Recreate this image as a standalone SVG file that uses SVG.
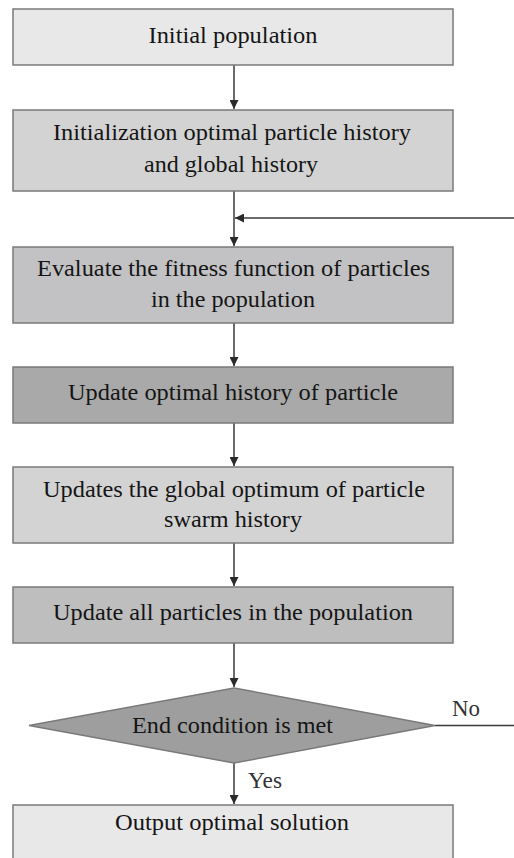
<svg xmlns="http://www.w3.org/2000/svg" width="514" height="858" viewBox="0 0 514 858">
<defs>
<style>
.box{stroke:#7a7a7a;stroke-width:1.5}
.t{font-family:'Liberation Serif','DejaVu Serif','Times New Roman',serif;font-size:24px;fill:#151515;text-anchor:middle}
.lbl{font-family:'Liberation Serif','DejaVu Serif','Times New Roman',serif;font-size:24px;fill:#333}
.ln{stroke:#3a3a3a;stroke-width:1.5;fill:none}
</style>
<marker id="ah" viewBox="0 0 10 10" refX="10" refY="5" markerWidth="9" markerHeight="9" markerUnits="userSpaceOnUse" orient="auto">
<path d="M0,0 L10,5 L0,10 Z" fill="#2a2a2a"/>
</marker>
</defs>
<rect width="514" height="858" fill="#ffffff"/>
<g id="connectors">
<line class="ln" x1="234" y1="65" x2="234" y2="109" marker-end="url(#ah)"/>
<line class="ln" x1="234" y1="191" x2="234" y2="246" marker-end="url(#ah)"/>
<line class="ln" x1="514" y1="218" x2="235" y2="218" marker-end="url(#ah)"/>
<line class="ln" x1="234" y1="323" x2="234" y2="366" marker-end="url(#ah)"/>
<line class="ln" x1="234" y1="423" x2="234" y2="466" marker-end="url(#ah)"/>
<line class="ln" x1="234" y1="543" x2="234" y2="586" marker-end="url(#ah)"/>
<line class="ln" x1="234" y1="643" x2="234" y2="687" marker-end="url(#ah)"/>
<line class="ln" x1="234" y1="763" x2="234" y2="804" marker-end="url(#ah)"/>
<line class="ln" x1="435" y1="725.5" x2="514" y2="725.5"/>
<text class="lbl" x="452" y="716" textLength="28" lengthAdjust="spacingAndGlyphs">No</text>
<text class="lbl" x="248" y="788" textLength="34" lengthAdjust="spacingAndGlyphs">Yes</text>
</g>
<g id="n1">
<rect class="box" x="13" y="9" width="440" height="56" fill="#e8e8e8"/>
<text class="t" x="233" y="43" textLength="169" lengthAdjust="spacingAndGlyphs">Initial population</text>
</g>
<g id="n2">
<rect class="box" x="13" y="110" width="440" height="81" fill="#d3d3d3"/>
<text class="t" x="232" y="140" textLength="358" lengthAdjust="spacingAndGlyphs">Initialization optimal particle history</text>
<text class="t" x="231" y="172" textLength="174" lengthAdjust="spacingAndGlyphs">and global history</text>
</g>
<g id="n3">
<rect class="box" x="13" y="247" width="440" height="76" fill="#c2c2c4"/>
<text class="t" x="233.5" y="276" textLength="393" lengthAdjust="spacingAndGlyphs">Evaluate the fitness function of particles</text>
<text class="t" x="233" y="307" textLength="164" lengthAdjust="spacingAndGlyphs">in the population</text>
</g>
<g id="n4">
<rect class="box" x="13" y="367" width="440" height="56" fill="#a9a9a9"/>
<text class="t" x="233" y="400" textLength="330" lengthAdjust="spacingAndGlyphs">Update optimal history of particle</text>
</g>
<g id="n5">
<rect class="box" x="13" y="467" width="440" height="76" fill="#d3d3d4"/>
<text class="t" x="234" y="497" textLength="382" lengthAdjust="spacingAndGlyphs">Updates the global optimum of particle</text>
<text class="t" x="233" y="527" textLength="138" lengthAdjust="spacingAndGlyphs">swarm history</text>
</g>
<g id="n6">
<rect class="box" x="13" y="587" width="440" height="56" fill="#bebebf"/>
<text class="t" x="233" y="620" textLength="360" lengthAdjust="spacingAndGlyphs">Update all particles in the population</text>
</g>
<g id="n7">
<polygon class="box" points="234,688 435,725.5 234,763 29,725.5" fill="#9e9e9e"/>
<text class="t" x="232.5" y="733" textLength="201" lengthAdjust="spacingAndGlyphs">End condition is met</text>
</g>
<g id="n8">
<rect class="box" x="13" y="805" width="440" height="60" fill="#e8e8e8"/>
<text class="t" x="232" y="830" textLength="234" lengthAdjust="spacingAndGlyphs">Output optimal solution</text>
</g>
</svg>
